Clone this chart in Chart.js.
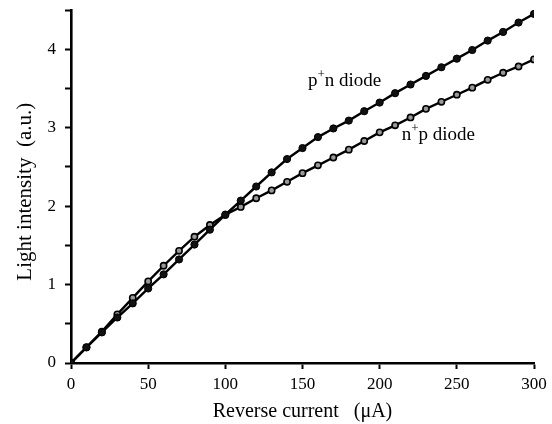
<!DOCTYPE html>
<html>
<head>
<meta charset="utf-8">
<script src="https://cdn.jsdelivr.net/npm/chart.js@4/dist/chart.umd.min.js"></script>
<style>
html,body{margin:0;padding:0;background:#fff;}
#wrap{width:552px;height:424px;position:relative;}
</style>
</head>
<body>
<div id="wrap"><canvas id="c" width="552" height="424"></canvas></div>
<script>
const currents = [0,10,20,30,40,50,60,70,80,90,100,110,120,130,140,150,160,170,180,190,200,210,220,230,240,250,260,270,280,290,300];
const pnDiode = [0,0.20,0.39,0.58,0.76,0.95,1.13,1.32,1.51,1.70,1.89,2.07,2.25,2.43,2.60,2.74,2.88,2.99,3.09,3.21,3.32,3.44,3.55,3.66,3.77,3.88,3.99,4.11,4.22,4.34,4.45];
const npDiode = [0,0.20,0.40,0.62,0.83,1.04,1.24,1.43,1.61,1.76,1.89,1.99,2.10,2.20,2.31,2.42,2.52,2.62,2.72,2.83,2.94,3.03,3.13,3.24,3.33,3.42,3.51,3.61,3.70,3.78,3.87];
const xTickValues = [0,50,100,150,200,250,300];
const yTickLabels = [0,1,2,3,4];
const xTitle = 'Reverse current   (\u03BCA)';
const yTitle = 'Light intensity  (a.u.)  ';
const seriesLabels = [
  {base:'p', sup:'+', rest:'n diode', x:153.5, y:3.60},
  {base:'n', sup:'+', rest:'p diode', x:214.3, y:2.91}
];

const FONT = '"Liberation Serif", "Times New Roman", serif';

const labelPlugin = {
  id:'seriesLabels',
  afterDatasetsDraw(chart){
    const ctx = chart.ctx;
    const xs = chart.scales.x, ys = chart.scales.y;
    ctx.save();
    ctx.fillStyle = '#000';
    ctx.textBaseline = 'middle';
    ctx.textAlign = 'left';
    seriesLabels.forEach(l=>{
      let px = xs.getPixelForValue(l.x);
      const py = ys.getPixelForValue(l.y);
      ctx.font = '19px ' + FONT;
      ctx.fillText(l.base, px, py);
      px += ctx.measureText(l.base).width;
      ctx.font = '13px ' + FONT;
      ctx.fillText(l.sup, px, py - 6);
      px += ctx.measureText(l.sup).width;
      ctx.font = '19px ' + FONT;
      ctx.fillText(l.rest, px, py);
    });
    ctx.restore();
  }
};

new Chart(document.getElementById('c'), {
  type:'line',
  data:{
    datasets:[
      {
        label:'p+n diode',
        data: currents.map((c,i)=>({x:c,y:pnDiode[i]})),
        borderColor:'#000', borderWidth:2.4,
        pointRadius:3.6, pointBackgroundColor:'#111', pointBorderColor:'#000', pointBorderWidth:1,
        tension:0
      },
      {
        label:'n+p diode',
        data: currents.map((c,i)=>({x:c,y:npDiode[i]})),
        borderColor:'#000', borderWidth:2.4,
        pointRadius:3.1, pointBackgroundColor:'#999', pointBorderColor:'#000', pointBorderWidth:1.6,
        tension:0
      }
    ]
  },
  options:{
    responsive:false,
    animation:false,
    devicePixelRatio:1,
    layout:{padding:{top:10,right:18,left:0,bottom:0}},
    plugins:{legend:{display:false},tooltip:{enabled:false}},
    scales:{
      x:{
        type:'linear', min:0, max:300,
        afterBuildTicks(s){ s.ticks = xTickValues.map(v=>({value:v})); },
        afterFit(s){ s.height = 61; s.paddingLeft = 0; s.paddingRight = 0; },
        border:{display:true,color:'#000',width:2.6},
        grid:{display:true,drawOnChartArea:false,drawTicks:true,tickLength:6,tickColor:'#000',tickWidth:2},
        ticks:{color:'#000',font:{family:FONT,size:17},padding:5,maxRotation:0},
        title:{display:true,text:xTitle,color:'#000',font:{family:FONT,size:20},padding:{top:2,bottom:0}}
      },
      y:{
        type:'linear', min:0, max:4.5,
        afterBuildTicks(s){ const t=[]; for(let v=0; v<=4.5+1e-9; v+=0.5) t.push({value:Math.round(v*10)/10}); s.ticks=t; },
        afterFit(s){ s.width = 71; s.paddingTop = 0; s.paddingBottom = 0; },
        border:{display:true,color:'#000',width:2.6},
        grid:{display:true,drawOnChartArea:false,drawTicks:true,tickLength:6,tickColor:'#000',tickWidth:2},
        ticks:{color:'#000',font:{family:FONT,size:17},padding:9,
          callback:(v)=> yTickLabels.includes(v) ? String(v) : ''},
        title:{display:true,text:yTitle,color:'#000',font:{family:FONT,size:21},padding:{top:13,bottom:0}}
      }
    }
  },
  plugins:[labelPlugin]
});
</script>
</body>
</html>
